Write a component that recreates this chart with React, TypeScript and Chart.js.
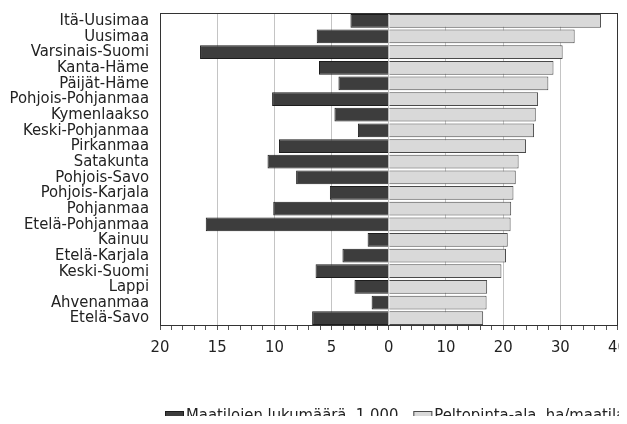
import React, { useEffect, useRef } from "react";
import { Chart, registerables } from "chart.js";

Chart.register(...registerables);

const categories = [
  "Itä-Uusimaa",
  "Uusimaa",
  "Varsinais-Suomi",
  "Kanta-Häme",
  "Päijät-Häme",
  "Pohjois-Pohjanmaa",
  "Kymenlaakso",
  "Keski-Pohjanmaa",
  "Pirkanmaa",
  "Satakunta",
  "Pohjois-Savo",
  "Pohjois-Karjala",
  "Pohjanmaa",
  "Etelä-Pohjanmaa",
  "Kainuu",
  "Etelä-Karjala",
  "Keski-Suomi",
  "Lappi",
  "Ahvenanmaa",
  "Etelä-Savo",
];

// Maatiloien lukumäärä, 1 000 (left side)
const farms = [3.35, 6.3, 16.5, 6.1, 4.4, 10.2, 4.75, 2.7, 9.6, 10.6, 8.1, 5.15, 10.1, 16.0, 1.85, 4.05, 6.4, 3.0, 1.5, 6.7];
// Peltopinta-ala, ha/maatila (right side)
const areaPerFarm = [37.1, 32.5, 30.4, 28.8, 27.9, 26.1, 25.7, 25.4, 24.0, 22.7, 22.2, 21.8, 21.4, 21.3, 20.8, 20.5, 19.7, 17.2, 17.1, 16.5];

const seriesLabels = ["Maatiloien lukumäärä, 1 000", "Peltopinta-ala, ha/maatila"];

// Left half: 0..20 farms; right half: 0..40 ha (scale factor 2)
const leftMax = 20;
const rightScale = 2;

const FONT = "'DejaVu Sans Condensed', 'Liberation Sans Narrow', sans-serif";

const framePlugin = {
  id: "frame",
  afterDatasetsDraw(chart: any) {
    const { ctx, chartArea } = chart;
    ctx.save();
    ctx.strokeStyle = "#333";
    ctx.lineWidth = 1;
    ctx.strokeRect(
      Math.round(chartArea.left) + 0.5,
      Math.round(chartArea.top) + 0.5,
      Math.round(chartArea.right - chartArea.left) - 1,
      Math.round(chartArea.bottom - chartArea.top) - 1
    );
    ctx.restore();
  },
};

const legendPlugin = {
  id: "customLegend",
  afterDraw(chart: any) {
    const { ctx } = chart;
    ctx.save();
    ctx.font = `16.5px ${FONT}`;
    ctx.textBaseline = "middle";
    ctx.textAlign = "left";
    let x = 165;
    const yc = 416;
    chart.data.datasets.forEach((ds: any) => {
      ctx.fillStyle = ds.backgroundColor;
      ctx.fillRect(x, yc - 5, 19, 11);
      ctx.strokeStyle = ds.borderColor;
      ctx.lineWidth = 1;
      ctx.strokeRect(x + 0.5, yc - 4.5, 18, 10);
      ctx.fillStyle = "#222";
      ctx.fillText(ds.label, x + 21, yc);
      x += 21 + ctx.measureText(ds.label).width + 15;
    });
    ctx.restore();
  },
};

export default function App() {
  const ref = useRef<HTMLCanvasElement | null>(null);

  useEffect(() => {
    if (!ref.current) return;
    const chart = new Chart(ref.current, {
      type: "bar",
      data: {
        labels: categories,
        datasets: [
          {
            label: seriesLabels[0],
            data: farms.map((v) => -v),
            backgroundColor: "#3d3d3d",
            borderColor: "#1c1c1c",
            borderWidth: 1,
            barPercentage: 0.88,
            categoryPercentage: 1,
          },
          {
            label: seriesLabels[1],
            data: areaPerFarm.map((v) => v / rightScale),
            backgroundColor: "#d9d9d9",
            borderColor: "#4a4a4a",
            borderWidth: 1,
            barPercentage: 0.88,
            categoryPercentage: 1,
          },
        ],
      },
      options: {
        indexAxis: "y",
        animation: false,
        responsive: false,
        maintainAspectRatio: false,
        layout: { padding: { top: 13, right: 0, left: 0, bottom: 0 } },
        plugins: {
          tooltip: { enabled: false },
          legend: { display: false },
        },
        scales: {
          x: {
            type: "linear",
            min: -leftMax,
            max: leftMax,
            stacked: true,
            afterFit(scale: any) {
              scale.height = 98;
            },
            border: { display: false },
            grid: {
              color: (c: any) => (c.tick && c.tick.value % 5 === 0 ? "#c4c4c4" : "rgba(0,0,0,0)"),
              tickColor: "#555",
              tickLength: 4,
              drawTicks: true,
              lineWidth: 1,
            },
            ticks: {
              stepSize: 1,
              autoSkip: false,
              maxRotation: 0,
              padding: 8,
              color: "#222",
              font: { family: FONT, size: 16.5 },
              callback: (value: any) => {
                const v = Number(value);
                if (v % 5 !== 0) return "";
                return v < 0 ? String(-v) : String(v * rightScale);
              },
            },
          },
          y: {
            type: "category",
            stacked: true,
            afterFit(scale: any) {
              scale.width = 160;
            },
            border: { display: false },
            grid: { display: false, drawTicks: true, tickLength: 11 },
            ticks: {
              autoSkip: false,
              padding: 0,
              color: "#222",
              font: { family: FONT, size: 16.5 },
            },
          },
        },
      },
      plugins: [framePlugin, legendPlugin],
    } as any);
    return () => chart.destroy();
  }, []);

  return (
    <div style={{ width: 627, height: 424, overflow: "hidden", margin: -8, position: "relative" }}>
      <canvas ref={ref} width={635} height={424} style={{ display: "block" }} />
    </div>
  );
}
